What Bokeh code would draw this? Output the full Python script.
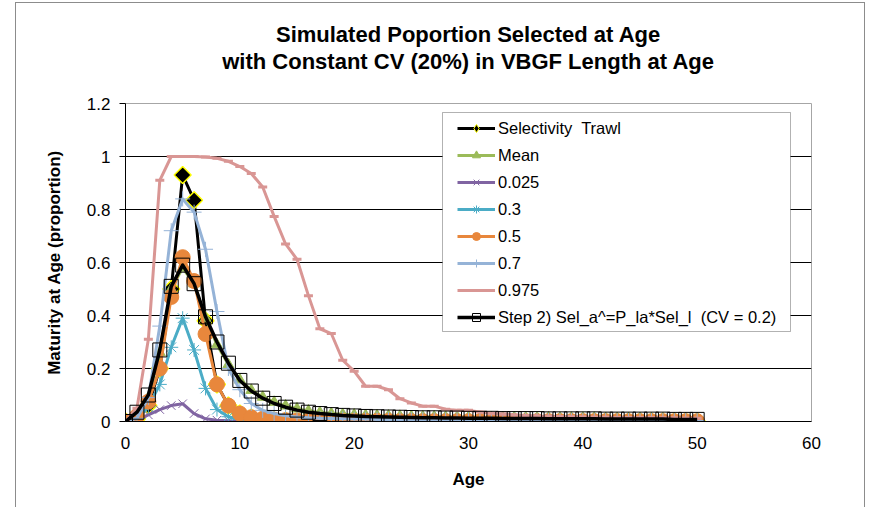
import numpy as np
from bokeh.plotting import figure
from bokeh.models import (FixedTicker, Legend, LegendItem, BoxAnnotation, Range1d,
                          ColumnDataSource, Title)
from bokeh.embed import file_html
from bokeh.resources import INLINE

# ---------------- data ----------------
ages = list(range(0, 51))

sel_trawl = [0.0, 0.01, 0.06, 0.2, 0.5, 0.93, 0.835, 0.38, 0.14, 0.06,
             0.03, 0.015, 0.008, 0.005, 0.003, 0.002, 0.001, 0.001, 0.001, 0.0,
             0.0, 0.0, 0.0, 0.0, 0.0, 0.0, 0.0, 0.0, 0.0, 0.0,
             0.0, 0.0, 0.0, 0.0, 0.0, 0.0, 0.0, 0.0, 0.0, 0.0,
             0.0, 0.0, 0.0, 0.0, 0.0, 0.0, 0.0, 0.0, 0.0, 0.0,
             0.0]

mean_sel = [0.0, 0.03, 0.09, 0.26, 0.5, 0.58, 0.52, 0.39, 0.29, 0.215,
            0.157, 0.118, 0.092, 0.073, 0.059, 0.048, 0.04, 0.034, 0.03, 0.027,
            0.025, 0.023, 0.022, 0.021, 0.02, 0.019, 0.018, 0.018, 0.017, 0.017,
            0.016, 0.016, 0.015, 0.015, 0.015, 0.014, 0.014, 0.014, 0.013, 0.013,
            0.013, 0.013, 0.012, 0.012, 0.012, 0.012, 0.011, 0.011, 0.011, 0.011,
            0.011]

q025 = [0.0, 0.005, 0.025, 0.045, 0.06, 0.067, 0.03, 0.01, 0.005, 0.003,
        0.002, 0.001, 0.001, 0.0, 0.0, 0.0, 0.0, 0.0, 0.0, 0.0,
        0.0, 0.0, 0.0, 0.0, 0.0, 0.0, 0.0, 0.0, 0.0, 0.0,
        0.0, 0.0, 0.0, 0.0, 0.0, 0.0, 0.0, 0.0, 0.0, 0.0,
        0.0, 0.0, 0.0, 0.0, 0.0, 0.0, 0.0, 0.0, 0.0, 0.0,
        0.0]

q30 = [0.0, 0.01, 0.055, 0.14, 0.28, 0.39, 0.27, 0.125, 0.045, 0.018,
       0.008, 0.004, 0.002, 0.001, 0.001, 0.0, 0.0, 0.0, 0.0, 0.0,
       0.0, 0.0, 0.0, 0.0, 0.0, 0.0, 0.0, 0.0, 0.0, 0.0,
       0.0, 0.0, 0.0, 0.0, 0.0, 0.0, 0.0, 0.0, 0.0, 0.0,
       0.0, 0.0, 0.0, 0.0, 0.0, 0.0, 0.0, 0.0, 0.0, 0.0,
       0.0]

q50 = [0.0, 0.02, 0.075, 0.2, 0.47, 0.62, 0.53, 0.33, 0.14, 0.06,
       0.03, 0.016, 0.01, 0.007, 0.005, 0.004, 0.003, 0.003, 0.002, 0.002,
       0.002, 0.002, 0.002, 0.002, 0.001, 0.001, 0.001, 0.001, 0.001, 0.001,
       0.001, 0.001, 0.001, 0.001, 0.001, 0.001, 0.001, 0.001, 0.001, 0.001,
       0.001, 0.001, 0.001, 0.001, 0.001, 0.001, 0.001, 0.001, 0.001, 0.001,
       0.001]

q70 = [0.0, 0.012, 0.09, 0.36, 0.72, 0.84, 0.79, 0.65, 0.415, 0.2,
       0.12, 0.068, 0.042, 0.03, 0.022, 0.017, 0.014, 0.012, 0.011, 0.01,
       0.009, 0.009, 0.008, 0.008, 0.007, 0.007, 0.007, 0.006, 0.006, 0.006,
       0.006, 0.005, 0.005, 0.005, 0.005, 0.005, 0.005, 0.005, 0.004, 0.004,
       0.004, 0.004, 0.004, 0.004, 0.004, 0.004, 0.004, 0.004, 0.004, 0.004,
       0.004]

q975 = [0.0, 0.05, 0.31, 0.91, 1.0, 1.0, 1.0, 0.998, 0.993, 0.982,
        0.962, 0.936, 0.885, 0.774, 0.67, 0.612, 0.475, 0.35, 0.332, 0.231,
        0.19, 0.133, 0.133, 0.12, 0.086, 0.07, 0.058, 0.058, 0.046, 0.042,
        0.042, 0.036, 0.03, 0.028, 0.025, 0.023, 0.021, 0.02, 0.019, 0.018,
        0.017, 0.016, 0.016, 0.015, 0.015, 0.014, 0.014, 0.013, 0.013, 0.012,
        0.012]

step2 = [0.0, 0.035, 0.10, 0.27, 0.51, 0.59, 0.52, 0.395, 0.30, 0.22,
         0.155, 0.115, 0.088, 0.068, 0.054, 0.043, 0.035, 0.03, 0.026, 0.023,
         0.021, 0.019, 0.018, 0.017, 0.016, 0.015, 0.014, 0.014, 0.013, 0.013,
         0.012, 0.012, 0.012, 0.011, 0.011, 0.011, 0.011, 0.010, 0.010, 0.010,
         0.010, 0.010, 0.009, 0.009, 0.009, 0.009, 0.009, 0.009, 0.008, 0.008,
         0.008]

series_labels = ["Selectivity  Trawl", "Mean", "0.025", "0.3", "0.5", "0.7", "0.975",
                 "Step 2) Sel_a^=P_la*Sel_l  (CV = 0.2)"]

x_ticks = [0, 10, 20, 30, 40, 50, 60]
y_ticks = [0, 0.2, 0.4, 0.6, 0.8, 1.0, 1.2]
y_tick_labels = ["0", "0.2", "0.4", "0.6", "0.8", "1", "1.2"]

title_line1 = "Simulated Poportion Selected at Age"
title_line2 = "with Constant CV (20%) in VBGF Length at Age"
x_label = "Age"
y_label = "Maturity at Age (proportion)"

# ---------------- layout constants (page pixels) ----------------
PAGE_W, PAGE_H = 873, 508
BOX_L, BOX_T, BOX_R = 15, 2, 867          # outer chart border
CAN_L, CAN_T = BOX_L + 1, BOX_T + 1        # canvas origin inside the border
CAN_W, CAN_H = BOX_R - 1 - CAN_L, PAGE_H - CAN_T
FL, FR, FT, FB = 125, 811, 103, 421        # frame edges on the page
FONT = "Liberation Sans"

p = figure(width=CAN_W, height=CAN_H, x_range=Range1d(0, 60), y_range=Range1d(0, 1.2),
           output_backend="svg", toolbar_location=None,
           min_border_left=FL - CAN_L, min_border_right=CAN_L + CAN_W - FR,
           min_border_top=FT - CAN_T, min_border_bottom=CAN_T + CAN_H - FB,
           margin=(BOX_T, 0, 0, BOX_L),
           styles={"border-left": "1px solid #8C8C8C",
                   "border-top": "1px solid #8C8C8C",
                   "border-right": "1px solid #8C8C8C"})
p.background_fill_color = "white"
p.border_fill_color = "white"
p.outline_line_color = "#A6A6A6"
p.outline_line_width = 1
p.title.visible = False

# spacer between title and plot, then two centred title lines
p.add_layout(Title(text=" ", standoff=0, text_font=FONT, text_font_size="25px"), "above")
for txt in (title_line2, title_line1):
    p.add_layout(Title(text=txt, align="center", offset=4, standoff=0,
                       text_font=FONT, text_font_size="22px", text_font_style="bold",
                       text_color="black"), "above")

# axes
for ax in (p.xaxis[0], p.yaxis[0]):
    ax.axis_line_color = "black"
    ax.axis_line_width = 1
    ax.major_tick_line_color = "black"
    ax.minor_tick_line_color = None
    ax.major_label_text_font = FONT
    ax.major_label_text_font_size = "17px"
    ax.major_label_text_color = "black"
    ax.axis_label_text_font = FONT
    ax.axis_label_text_font_style = "bold"
    ax.axis_label_text_color = "black"

p.xaxis.ticker = FixedTicker(ticks=x_ticks)
p.xaxis.major_tick_out = 0
p.xaxis.major_tick_in = 0
p.xaxis.major_label_standoff = 15
p.xaxis.axis_label = x_label
p.xaxis.axis_label_text_font_size = "17px"
p.xaxis.axis_label_standoff = 18

p.yaxis.ticker = FixedTicker(ticks=y_ticks)
p.yaxis.major_label_overrides = dict(zip(y_ticks, y_tick_labels))
p.yaxis.major_tick_out = 6
p.yaxis.major_tick_in = 0
p.yaxis.major_label_standoff = 9
p.yaxis.axis_label = y_label
p.yaxis.axis_label_text_font_size = "17px"
p.yaxis.axis_label_standoff = 20

p.xgrid.visible = False
p.ygrid.grid_line_color = "black"
p.ygrid.grid_line_width = 1

src = ColumnDataSource(dict(age=ages, sel=sel_trawl, mean=mean_sel, q025=q025, q30=q30,
                            q50=q50, q70=q70, q975=q975, step2=step2))

styles = [
    # key, line color, line width, marker, size, fill, marker line color, marker lw, angle
    ("sel", "black", 3, "square", 12, "black", "#FFFF00", 1.5, np.pi / 4),
    ("mean", "#9BBB59", 3, "triangle", 11, "#9BBB59", "#9BBB59", 1, 0),
    ("q025", "#8064A2", 3, "x", 12, None, "#8064A2", 1, 0),
    ("q30", "#4BACC6", 3, "asterisk", 14, None, "#4BACC6", 1, 0),
    ("q50", "#E8873C", 3, "circle", 15, "#E8873C", "#E8873C", 1, 0),
    ("q70", "#95B3D7", 3, "cross", 15, None, "#95B3D7", 1, 0),
    ("q975", "#D99694", 3, "dash", 9, None, "#D99694", 3, 0),
    ("step2", "black", 3.5, "square", 14, None, "black", 1, 0),
]

items = []
for (key, lc, lw, mk, sz, fc, mlc, mlw, ang), lab in zip(styles, series_labels):
    lr = p.line("age", key, source=src, line_color=lc, line_width=lw, line_join="round")
    if key == "sel":
        # small diamond hidden under the larger rotated square; used for the legend glyph
        dr = p.scatter("age", key, source=src, marker="diamond", size=12,
                       fill_color="black", line_color="#FFFF00", line_width=1)
    sr = p.scatter("age", key, source=src, marker=mk, size=sz, angle=ang,
                   fill_color=fc, line_color=mlc, line_width=mlw)
    items.append(LegendItem(label=lab, renderers=[lr, dr if key == "sel" else sr]))

# legend frame (white box with black border)
xs = 60 / (FR - FL)
ys = 1.2 / (FB - FT)
legend_box = BoxAnnotation(left=(442 - FL) * xs, right=(790 - FL) * xs,
                           bottom=(FB - 331) * ys, top=(FB - 112) * ys,
                           fill_color="white", fill_alpha=1,
                           line_color="black", line_width=1)
p.add_layout(legend_box)

legend = Legend(items=items, location=(461 - 4 - FL, FB - 331 + 4),
                padding=4, margin=0, spacing=7, glyph_width=38, glyph_height=20,
                label_height=20, label_standoff=3,
                label_text_font=FONT, label_text_font_size="16.5px",
                label_text_color="black",
                border_line_color=None, background_fill_alpha=0)
p.add_layout(legend, "center")

open("out.html", "w").write(file_html(p, INLINE))
